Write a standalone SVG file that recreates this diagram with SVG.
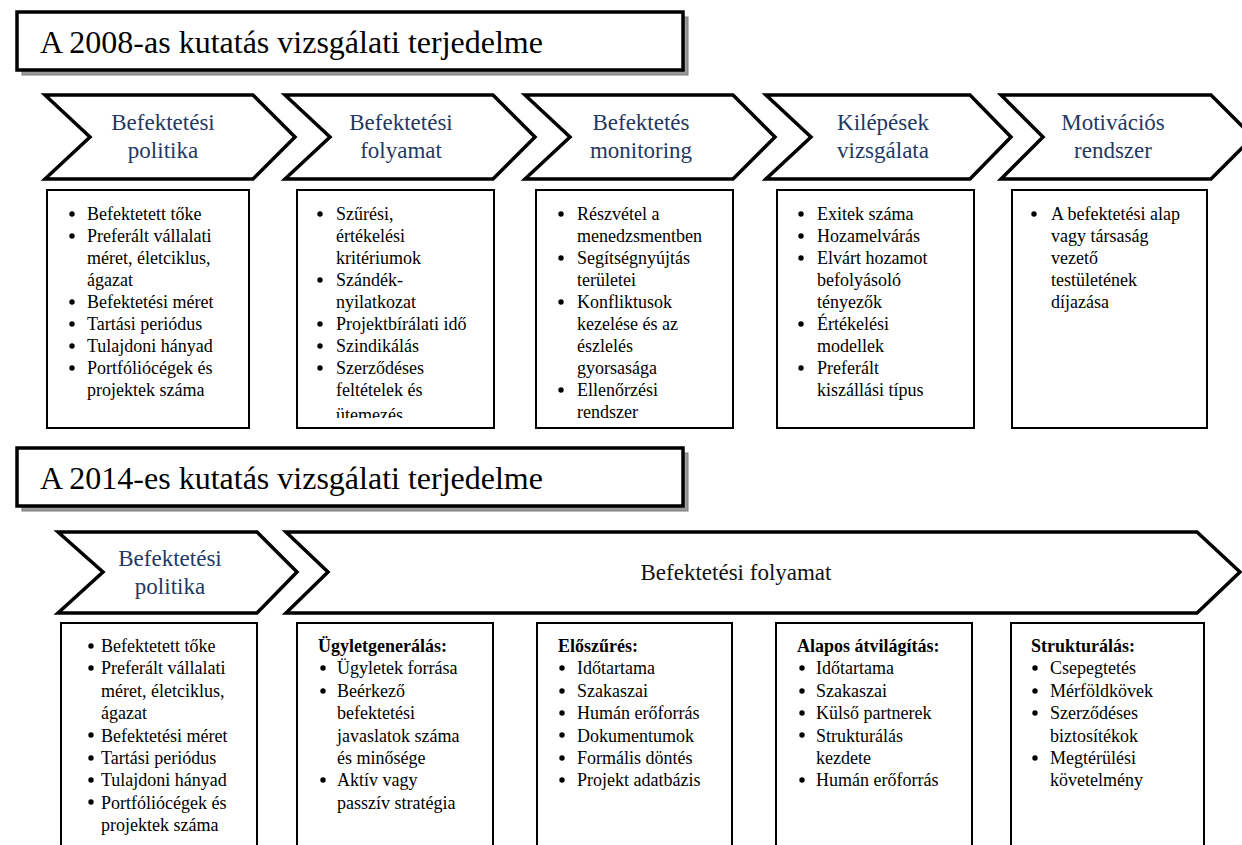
<svg xmlns="http://www.w3.org/2000/svg" width="1242" height="845" viewBox="0 0 1242 845">
<style>
text{font-family:"Liberation Serif","Times New Roman",serif;fill:#000}
.title{font-size:32px}
.chev{fill:#fff;stroke:#000;stroke-width:3.5;stroke-linejoin:miter}
.ct{font-size:23px;fill:#1F3864;text-anchor:middle}
.ctb{font-size:23px;fill:#111;text-anchor:middle}
.box{fill:#fff;stroke:#000;stroke-width:2}
.tb{fill:#fff;stroke:#000;stroke-width:3.5}
.sh{fill:#9a9a9a;stroke:#7a7a7a;stroke-width:1}
.bt{font-size:18px}
.hd{font-size:18px;font-weight:bold}
.bl{fill:#000}
</style>
<defs>
<clipPath id="clip2"><rect x="297" y="190" width="198" height="228"/></clipPath>
</defs>

<g id="title2008">
<rect class="sh" x="22" y="17" width="666" height="58"/>
<rect class="tb" x="17" y="12" width="666" height="58"/>
<text class="title" x="40" y="53">A 2008-as kutatás vizsgálati terjedelme</text>
</g>

<g id="chev2008-1">
<polygon class="chev" points="45,95 253,95 295,137 253,179 45,179 90,137"/>
<text class="ct" x="163" y="130">Befektetési</text>
<text class="ct" x="163" y="158">politika</text>
</g>
<g id="chev2008-2">
<polygon class="chev" points="285,95 493,95 535,137 493,179 285,179 330,137"/>
<text class="ct" x="401" y="130">Befektetési</text>
<text class="ct" x="401" y="158">folyamat</text>
</g>
<g id="chev2008-3">
<polygon class="chev" points="525,95 733,95 775,137 733,179 525,179 570,137"/>
<text class="ct" x="641" y="130">Befektetés</text>
<text class="ct" x="641" y="158">monitoring</text>
</g>
<g id="chev2008-4">
<polygon class="chev" points="766,95 970,95 1011,137 970,179 766,179 811,137"/>
<text class="ct" x="883" y="130">Kilépések</text>
<text class="ct" x="883" y="158">vizsgálata</text>
</g>
<g id="chev2008-5">
<polygon class="chev" points="1001,95 1211,95 1253,137 1211,179 1001,179 1043,137"/>
<text class="ct" x="1113" y="130">Motivációs</text>
<text class="ct" x="1113" y="158">rendszer</text>
</g>

<g id="box2008-1">
<rect class="box" x="47" y="190" width="202" height="238"/>
<g class="bl"><circle cx="72" cy="214" r="2.7"/><circle cx="72" cy="236" r="2.7"/><circle cx="72" cy="302" r="2.7"/><circle cx="72" cy="324" r="2.7"/><circle cx="72" cy="346" r="2.7"/><circle cx="72" cy="368" r="2.7"/></g>
<text class="bt"><tspan x="87" y="220">Befektetett tőke</tspan><tspan x="87" y="242">Preferált vállalati</tspan><tspan x="87" y="264">méret, életciklus,</tspan><tspan x="87" y="286">ágazat</tspan><tspan x="87" y="308">Befektetési méret</tspan><tspan x="87" y="330">Tartási periódus</tspan><tspan x="87" y="352">Tulajdoni hányad</tspan><tspan x="87" y="374">Portfóliócégek és</tspan><tspan x="87" y="396">projektek száma</tspan></text>
</g>

<g id="box2008-2">
<rect class="box" x="297" y="190" width="197" height="238"/>
<g class="bl"><circle cx="320" cy="214" r="2.7"/><circle cx="320" cy="280" r="2.7"/><circle cx="320" cy="324" r="2.7"/><circle cx="320" cy="346" r="2.7"/><circle cx="320" cy="368" r="2.7"/></g>
<text class="bt" clip-path="url(#clip2)"><tspan x="336" y="220">Szűrési,</tspan><tspan x="336" y="242">értékelési</tspan><tspan x="336" y="264">kritériumok</tspan><tspan x="336" y="286">Szándék-</tspan><tspan x="336" y="308">nyilatkozat</tspan><tspan x="336" y="330">Projektbírálati idő</tspan><tspan x="336" y="352">Szindikálás</tspan><tspan x="336" y="374">Szerződéses</tspan><tspan x="336" y="396">feltételek és</tspan><tspan x="336" y="421">ütemezés</tspan></text>
</g>

<g id="box2008-3">
<rect class="box" x="536" y="190" width="197" height="238"/>
<g class="bl"><circle cx="561" cy="214" r="2.7"/><circle cx="561" cy="258" r="2.7"/><circle cx="561" cy="302" r="2.7"/><circle cx="561" cy="390" r="2.7"/></g>
<text class="bt"><tspan x="577" y="220">Részvétel a</tspan><tspan x="577" y="242">menedzsmentben</tspan><tspan x="577" y="264">Segítségnyújtás</tspan><tspan x="577" y="286">területei</tspan><tspan x="577" y="308">Konfliktusok</tspan><tspan x="577" y="330">kezelése és az</tspan><tspan x="577" y="352">észlelés</tspan><tspan x="577" y="374">gyorsasága</tspan><tspan x="577" y="396">Ellenőrzési</tspan><tspan x="577" y="418">rendszer</tspan></text>
</g>

<g id="box2008-4">
<rect class="box" x="777" y="190" width="197" height="238"/>
<g class="bl"><circle cx="801" cy="214" r="2.7"/><circle cx="801" cy="236" r="2.7"/><circle cx="801" cy="258" r="2.7"/><circle cx="801" cy="324" r="2.7"/><circle cx="801" cy="368" r="2.7"/></g>
<text class="bt"><tspan x="817" y="220">Exitek száma</tspan><tspan x="817" y="242">Hozamelvárás</tspan><tspan x="817" y="264">Elvárt hozamot</tspan><tspan x="817" y="286">befolyásoló</tspan><tspan x="817" y="308">tényezők</tspan><tspan x="817" y="330">Értékelési</tspan><tspan x="817" y="352">modellek</tspan><tspan x="817" y="374">Preferált</tspan><tspan x="817" y="396">kiszállási típus</tspan></text>
</g>

<g id="box2008-5">
<rect class="box" x="1012" y="190" width="195" height="238"/>
<g class="bl"><circle cx="1034" cy="214" r="2.7"/></g>
<text class="bt"><tspan x="1051" y="220">A befektetési alap</tspan><tspan x="1051" y="242">vagy társaság</tspan><tspan x="1051" y="264">vezető</tspan><tspan x="1051" y="286">testületének</tspan><tspan x="1051" y="308">díjazása</tspan></text>
</g>

<g id="title2014">
<rect class="sh" x="22" y="453" width="666" height="58"/>
<rect class="tb" x="17" y="448" width="666" height="58"/>
<text class="title" x="40" y="489">A 2014-es kutatás vizsgálati terjedelme</text>
</g>

<g id="chev2014-1">
<polygon class="chev" points="58,532 257,532 297,572 257,613 58,613 103,572"/>
<text class="ct" x="170" y="566">Befektetési</text>
<text class="ct" x="170" y="594">politika</text>
</g>
<g id="chev2014-2">
<polygon class="chev" points="286,532 1197,532 1240,572 1197,613 286,613 328,572"/>
<text class="ctb" x="736" y="580">Befektetési folyamat</text>
</g>

<g id="box2014-1">
<rect class="box" x="61" y="623" width="196" height="240"/>
<g class="bl"><circle cx="91" cy="646" r="2.7"/><circle cx="91" cy="668" r="2.7"/><circle cx="91" cy="735" r="2.7"/><circle cx="91" cy="758" r="2.7"/><circle cx="91" cy="780" r="2.7"/><circle cx="91" cy="802" r="2.7"/></g>
<text class="bt"><tspan x="101" y="652">Befektetett tőke</tspan><tspan x="101" y="674.4">Preferált vállalati</tspan><tspan x="101" y="696.8">méret, életciklus,</tspan><tspan x="101" y="719.2">ágazat</tspan><tspan x="101" y="741.6">Befektetési méret</tspan><tspan x="101" y="764">Tartási periódus</tspan><tspan x="101" y="786.4">Tulajdoni hányad</tspan><tspan x="101" y="808.8">Portfóliócégek és</tspan><tspan x="101" y="831.2">projektek száma</tspan></text>
</g>

<g id="box2014-2">
<rect class="box" x="297" y="623" width="196" height="240"/>
<text class="hd" x="318" y="652">Ügyletgenerálás:</text>
<g class="bl"><circle cx="323" cy="668" r="2.7"/><circle cx="323" cy="691" r="2.7"/><circle cx="323" cy="780" r="2.7"/></g>
<text class="bt"><tspan x="337" y="674.4">Ügyletek forrása</tspan><tspan x="337" y="696.8">Beérkező</tspan><tspan x="337" y="719.2">befektetési</tspan><tspan x="337" y="741.6">javaslatok száma</tspan><tspan x="337" y="764">és minősége</tspan><tspan x="337" y="786.4">Aktív vagy</tspan><tspan x="337" y="808.8">passzív stratégia</tspan></text>
</g>

<g id="box2014-3">
<rect class="box" x="537" y="623" width="195" height="240"/>
<text class="hd" x="558" y="652">Előszűrés:</text>
<g class="bl"><circle cx="562" cy="668" r="2.7"/><circle cx="562" cy="691" r="2.7"/><circle cx="562" cy="713" r="2.7"/><circle cx="562" cy="735" r="2.7"/><circle cx="562" cy="758" r="2.7"/><circle cx="562" cy="780" r="2.7"/></g>
<text class="bt"><tspan x="577" y="674.4">Időtartama</tspan><tspan x="577" y="696.8">Szakaszai</tspan><tspan x="577" y="719.2">Humán erőforrás</tspan><tspan x="577" y="741.6">Dokumentumok</tspan><tspan x="577" y="764">Formális döntés</tspan><tspan x="577" y="786.4">Projekt adatbázis</tspan></text>
</g>

<g id="box2014-4">
<rect class="box" x="776" y="623" width="196" height="240"/>
<text class="hd" x="797" y="652">Alapos átvilágítás:</text>
<g class="bl"><circle cx="802" cy="668" r="2.7"/><circle cx="802" cy="691" r="2.7"/><circle cx="802" cy="713" r="2.7"/><circle cx="802" cy="735" r="2.7"/><circle cx="802" cy="780" r="2.7"/></g>
<text class="bt"><tspan x="816" y="674.4">Időtartama</tspan><tspan x="816" y="696.8">Szakaszai</tspan><tspan x="816" y="719.2">Külső partnerek</tspan><tspan x="816" y="741.6">Strukturálás</tspan><tspan x="816" y="764">kezdete</tspan><tspan x="816" y="786.4">Humán erőforrás</tspan></text>
</g>

<g id="box2014-5">
<rect class="box" x="1011" y="623" width="193" height="240"/>
<text class="hd" x="1031" y="652">Strukturálás:</text>
<g class="bl"><circle cx="1035" cy="668" r="2.7"/><circle cx="1035" cy="691" r="2.7"/><circle cx="1035" cy="713" r="2.7"/><circle cx="1035" cy="758" r="2.7"/></g>
<text class="bt"><tspan x="1050" y="674.4">Csepegtetés</tspan><tspan x="1050" y="696.8">Mérföldkövek</tspan><tspan x="1050" y="719.2">Szerződéses</tspan><tspan x="1050" y="741.6">biztosítékok</tspan><tspan x="1050" y="764">Megtérülési</tspan><tspan x="1050" y="786.4">követelmény</tspan></text>
</g>

<g id="connectors"></g>
</svg>
